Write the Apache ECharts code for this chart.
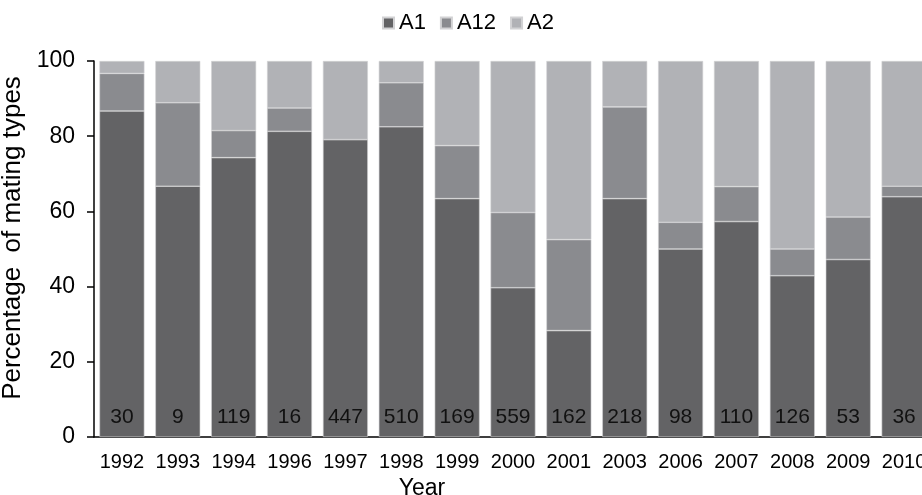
<!DOCTYPE html>
<html>
<head>
<meta charset="utf-8">
<script src="https://cdn.jsdelivr.net/npm/echarts@6/dist/echarts.min.js"></script>
<style>
html,body{margin:0;padding:0;background:#fff;}
#chart{width:922px;height:495px;}
</style>
</head>
<body>
<div id="chart"></div>
<script>
const years = ['1992','1993','1994','1996','1997','1998','1999','2000','2001','2003','2006','2007','2008','2009','2010'];
const sampleSizes = [30,9,119,16,447,510,169,559,162,218,98,110,126,53,36];
const a1 = [86.7,66.7,74.3,81.3,79.1,82.5,63.4,39.7,28.3,63.4,50.0,57.3,42.9,47.2,63.9];
const a12 = [10.0,22.2,7.2,6.2,0,11.7,14.1,20.0,24.2,24.4,7.1,9.3,7.1,11.3,2.8];
const a2 = [3.3,11.1,18.5,12.5,20.9,5.8,22.5,40.3,47.5,12.2,42.9,33.4,50.0,41.5,33.3];
const yTicks = [0,20,40,60,80,100];

const FONT = 'Liberation Sans, Arial, sans-serif';
const chart = echarts.init(document.getElementById('chart'), null, {renderer:'canvas'});
const border = {borderColor:'#d2d2d4', borderWidth:0.6};
chart.setOption({
  animation:false,
  textStyle:{fontFamily:FONT},
  legend:{
    left:382, top:12, padding:0, icon:'rect', itemWidth:11, itemHeight:11, itemGap:14,
    textStyle:{fontFamily:FONT, fontSize:22, color:'#000'},
    data:['A1','A12','A2']
  },
  grid:{left:94, top:61, width:838, bottom:58, containLabel:false, outerBoundsMode:'none'},
  xAxis:{
    type:'category', data:years,
    axisLine:{lineStyle:{color:'#000', width:1.5}},
    axisTick:{show:false},
    axisLabel:{fontFamily:FONT, fontSize:20, color:'#000', margin:15, interval:0},
    name:'Year', nameLocation:'middle', nameGap:37,
    nameTextStyle:{fontFamily:FONT, fontSize:23, color:'#000', padding:[0,182,0,0]}
  },
  yAxis:{
    type:'value', min:yTicks[0], max:yTicks[yTicks.length-1], interval:20,
    axisLine:{show:true, lineStyle:{color:'#000', width:1.5}},
    axisTick:{show:true, inside:false, length:7, lineStyle:{color:'#000', width:1.5}},
    axisLabel:{fontFamily:FONT, fontSize:23, color:'#000', margin:19},
    splitLine:{show:false},
    name:'Percentage  of mating types', nameLocation:'middle', nameGap:58,
    nameTextStyle:{fontFamily:FONT, fontSize:26, color:'#000', padding:[0,0,0,22]}
  },
  series:[
    {name:'A1', type:'bar', stack:'t', data:a1, barCategoryGap:'19.5%',
     itemStyle:Object.assign({color:'#636365'}, border),
     label:{show:true, position:'insideBottom', distance:9, fontFamily:FONT, fontSize:21, color:'#111',
       formatter:p=>String(sampleSizes[p.dataIndex])}},
    {name:'A12', type:'bar', stack:'t', data:a12,
     itemStyle:Object.assign({color:'#8a8b8f'}, border)},
    {name:'A2', type:'bar', stack:'t', data:a2,
     itemStyle:Object.assign({color:'#b1b2b6'}, border)}
  ]
});
</script>
</body>
</html>
